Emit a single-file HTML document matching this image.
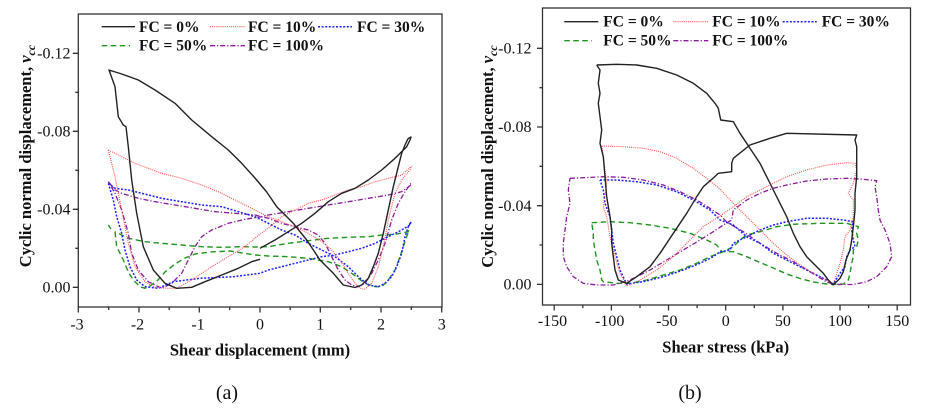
<!DOCTYPE html>
<html>
<head>
<meta charset="utf-8">
<style>
html,body{margin:0;padding:0;background:#fff;}
svg{display:block;font-family:"Liberation Serif","Times New Roman",serif;}
text{font-family:"Liberation Serif","Times New Roman",serif;fill:#111;}
.tk{font-size:16px;}
.lg{font-size:15.5px;font-weight:bold;}
.at{font-size:16.5px;font-weight:bold;}
.sl{font-size:20px;}
.ax{fill:none;stroke:#333;stroke-width:1.3;}
.k{fill:none;stroke:#222;stroke-width:1.4;stroke-linejoin:round;}
.r{fill:none;stroke:#ff4d4d;stroke-width:1.1;stroke-dasharray:1 1.1;}
.b{fill:none;stroke:#1f1fff;stroke-width:1.5;stroke-dasharray:2 1.6;}
.g{fill:none;stroke:#1e961e;stroke-width:1.4;stroke-dasharray:5.5 3.5;}
.p{fill:none;stroke:#8a1c9c;stroke-width:1.3;stroke-dasharray:5 2 1.2 2;}
</style>
</head>
<body>
<svg width="927" height="411" viewBox="0 0 927 411" xmlns="http://www.w3.org/2000/svg" font-family="Liberation Serif, serif">
<rect x="0" y="0" width="927" height="411" fill="#fff"/>

<!-- ================= PANEL A ================= -->
<rect class="ax" x="78.3" y="14" width="363.7" height="293"/>
<path class="ax" d="M72.8,53.3H78.3 M72.8,131.3H78.3 M72.8,209.3H78.3 M72.8,287.3H78.3 M75.3,92.3H78.3 M75.3,170.3H78.3 M75.3,248.3H78.3"/>
<path class="ax" d="M78.3,307V312.5 M139,307V312.5 M199.3,307V312.5 M260,307V312.5 M320.3,307V312.5 M381,307V312.5 M441.7,307V312.5 M108.7,307V310 M169.2,307V310 M229.7,307V310 M290.2,307V310 M350.7,307V310 M411.3,307V310"/>
<g class="tk" text-anchor="end">
<text x="70.5" y="58.5">-0.12</text>
<text x="70.5" y="136.5">-0.08</text>
<text x="70.5" y="214.5">-0.04</text>
<text x="70.5" y="292.5">0.00</text>
</g>
<g class="tk" text-anchor="middle">
<text x="77" y="329.5">-3</text>
<text x="137.5" y="329.5">-2</text>
<text x="198" y="329.5">-1</text>
<text x="260" y="329.5">0</text>
<text x="320.3" y="329.5">1</text>
<text x="381" y="329.5">2</text>
<text x="441.7" y="329.5">3</text>
</g>
<text class="at" x="260" y="355.5" text-anchor="middle">Shear displacement (mm)</text>
<text class="at" transform="translate(31,156) rotate(-90)" text-anchor="middle">Cyclic normal displacement, <tspan font-style="italic">v</tspan><tspan font-style="italic" font-size="12" dy="4">cc</tspan></text>
<text class="sl" x="227" y="399" text-anchor="middle">(a)</text>

<line x1="101.7" y1="26.7" x2="135" y2="26.7" class="k"/>
<text class="lg" x="139" y="32">FC = 0%</text>
<line x1="210" y1="26.7" x2="245" y2="26.7" class="r"/>
<text class="lg" x="248" y="32">FC = 10%</text>
<line x1="318" y1="26.7" x2="352" y2="26.7" class="b"/>
<text class="lg" x="357" y="32">FC = 30%</text>
<line x1="101.7" y1="45.7" x2="130" y2="45.7" class="g"/>
<text class="lg" x="139" y="50.7">FC = 50%</text>
<line x1="210" y1="45.7" x2="245" y2="45.7" class="p"/>
<text class="lg" x="248" y="50.7">FC = 100%</text>

<path class="g" d="M108.3,225 L111,229"/>
<path class="g" d="M115,231.7 L116.7,246.7 L123.3,260 L128.3,272 L133.3,280 L140,286.7 L145,288.3 L150,286 L158,280 L165,272 L175,264 L185,258 L195,254 L210,252 L230,251 L255,255 L268.3,256 L288.3,256.7 L308.3,258.3 L328.3,261.7 L341.7,266.7 L351.7,273.3 L358.3,278.3 L365,283.3 L375,286.7 L381.7,286.7 L388.3,280 L395,270 L400,256.7 L403.3,246.7 L406.7,236.7 L409,230 L408.3,231.7 L395,234.3 L381.7,235 L368.3,236.7 L348.3,237.3 L328.3,238.3 L308.3,240.7 L288.3,243.3 L268.3,246.7 L255,247 L241.7,246.7 L221.7,247.3 L201.7,246.7 L181.7,245 L161.7,243.3 L145,241.7 L128.3,238.3 L115,231.7"/>
<path class="p" d="M108.3,181.7 L115,190 L121.7,193.3 L138.3,198.3 L155,201.7 L175,205 L195,208.3 L215,211.7 L235,213.3 L255,215 L268.3,218.3 L281.7,223.3 L295,226.7 L308.3,230 L318.3,235 L325,243.3 L331.7,256.7 L338.3,270 L345,280 L351.7,285 L358.3,286.7 L365,283.3 L371.7,273.3 L378.3,260 L385,243.3 L391.7,220 L398.3,203.3 L405,191.7 L411,183.3 L411,185 L401.7,191.7 L388.3,195 L368.3,198.3 L348.3,201.7 L328.3,205 L308.3,208.3 L288.3,211.7 L268.3,215 L261.7,216.7 L245,219.3 L228.3,223.3 L211.7,230 L201.7,236.7 L195,246.7 L188.3,260 L181.7,273.3 L171.7,283.3 L161.7,288.3 L148.3,281.7 L138.3,270 L131.7,253.3 L128.3,233.3 L121.7,210 L115,193.3 L108.3,181.7"/>
<path class="b" d="M108.3,183.3 L115,188.3 L128.3,190 L141.7,193.3 L161.7,198.3 L181.7,201.7 L201.7,205 L221.7,206.7 L238.3,211.7 L255,216.7 L268.3,223.3 L281.7,230 L295,235 L308.3,243.3 L321.7,250 L335,256.7 L348.3,266.7 L358.3,276.7 L368.3,285 L378.3,286.7 L385,283.3 L391.7,276.7 L396.7,266.7 L401.7,253.3 L405,236.7 L408.3,226.7 L411,221.7 L410,225 L401.7,230 L388.3,236.7 L375,243.3 L361.7,248.3 L348.3,251.7 L335,255 L321.7,256.7 L308.3,260 L295,263.3 L281.7,266.7 L268.3,270 L260,273.3 L233.3,276.7 L200,278.3 L173.3,281.7 L158.3,288.3 L145,286.7 L136.7,280 L130,266.7 L125,250 L121.7,233.3 L116.7,216.7 L113.3,200 L108.3,183.3"/>
<path class="r" d="M108.3,150 L121.7,156.7 L135,163.3 L148.3,168.3 L161.7,173.3 L181.7,178.3 L201.7,185 L218.3,191.7 L235,200 L251.7,208.3 L268.3,216.7 L281.7,221.7 L295,226.7 L308.3,233.3 L321.7,241.7 L331.7,250 L340,260 L348.3,273.3 L355,283.3 L361.7,289 L365,289 L371.7,283.3 L378.3,266.7 L383.3,246.7 L388.3,220 L395,193.3 L401.7,180 L410,170 L411.7,166 L401.7,175 L388.3,178.3 L375,181.7 L361.7,186.7 L348.3,190 L335,195 L321.7,200 L308.3,203.3 L295,210 L281.7,216.7 L268.3,228 L255,238 L245,246.7 L228.3,256.7 L211.7,266.7 L191.7,280 L176.7,288.3 L168.3,288.3 L155,287.3 L145,281.7 L135,266.7 L128.3,243.3 L121.7,210 L115,176.7 L108.3,150"/>
<path class="k" d="M260,248.3 L275,240 L288.3,231.7 L301.7,223.3 L315,213.3 L328.3,201.7 L341.7,193.3 L355,188.3 L368.3,180 L381.7,170 L395,158.3 L406.7,146.7 L410,140 L411,137 L409,138 L407.7,139.3 L405,145 L401.7,153.3 L398.3,166.7 L393.3,186.7 L388.3,210 L383.3,233.3 L378.3,253.3 L373.3,266.7 L368.3,278.3 L361.7,285 L355,287.5 L343.3,285 L333.3,273.3 L320,260 L306.7,240 L293.3,223.3 L283.3,213.3 L276.7,206.7 L266.7,192 L255,178 L241.7,163.3 L228.3,150 L211.7,136.7 L191.7,120 L175,103.3 L155,90 L138.3,80 L121.7,74 L109,70 L115,86.7 L118.3,116.7 L123.3,125 L126,126.7 L128.3,146.7 L131.7,180 L136.7,213.3 L143.3,246.7 L153.3,270 L165,283.3 L176.7,288.3 L191.7,287.3 L205,281.7 L221.7,275 L238.3,268.3 L251.7,261.7 L260,259.3"/>

<!-- ================= PANEL B ================= -->
<rect class="ax" x="542.5" y="8" width="368" height="297"/>
<path class="ax" d="M537,48.3H542.5 M537,127H542.5 M537,205.7H542.5 M537,284.4H542.5 M539.5,87.7H542.5 M539.5,166.3H542.5 M539.5,245H542.5"/>
<path class="ax" d="M554.2,305V310.5 M611.4,305V310.5 M668.5,305V310.5 M725.7,305V310.5 M782.9,305V310.5 M840,305V310.5 M897.2,305V310.5 M582.8,305V308 M640,305V308 M697.1,305V308 M754.3,305V308 M811.5,305V308 M868.6,305V308"/>
<g class="tk" text-anchor="end">
<text x="531.5" y="53.5">-0.12</text>
<text x="531.5" y="132.2">-0.08</text>
<text x="531.5" y="210.9">-0.04</text>
<text x="531.5" y="289.6">0.00</text>
</g>
<g class="tk" text-anchor="middle">
<text x="552.5" y="326">-150</text>
<text x="609.7" y="326">-100</text>
<text x="666.8" y="326">-50</text>
<text x="725.7" y="326">0</text>
<text x="782.9" y="326">50</text>
<text x="840" y="326">100</text>
<text x="897.2" y="326">150</text>
</g>
<text class="at" x="725.7" y="352.5" text-anchor="middle">Shear stress (kPa)</text>
<text class="at" transform="translate(493,156.5) rotate(-90)" text-anchor="middle">Cyclic normal displacement, <tspan font-style="italic">v</tspan><tspan font-style="italic" font-size="12" dy="4">cc</tspan></text>
<text class="sl" x="690" y="399" text-anchor="middle">(b)</text>

<line x1="564.3" y1="21.7" x2="598.3" y2="21.7" class="k"/>
<text class="lg" x="603.3" y="26.7">FC = 0%</text>
<line x1="673.3" y1="21.7" x2="708.3" y2="21.7" class="r"/>
<text class="lg" x="712.3" y="26.7">FC = 10%</text>
<line x1="782.7" y1="21.7" x2="816.7" y2="21.7" class="b"/>
<text class="lg" x="821.7" y="26.7">FC = 30%</text>
<line x1="564.3" y1="40.7" x2="592" y2="40.7" class="g"/>
<text class="lg" x="603.3" y="45.7">FC = 50%</text>
<line x1="673.3" y1="40.7" x2="708.3" y2="40.7" class="p"/>
<text class="lg" x="712.3" y="45.7">FC = 100%</text>

<path class="g" d="M591.7,222.7 L610,221.7 L630,222.7 L650,225 L670,228.3 L690,233.3 L706.7,240 L716.7,245 L721.7,251.7 L733.3,251.7 L746.7,256.7 L760,262.5 L773.3,268 L786.7,274 L800,278.5 L813.3,282 L826.7,284 L833.3,284.5 L843.3,284 L848.3,280 L850,273.3 L851.7,263.3 L853.3,256.7 L853.3,250 L856.7,246.7 L858.3,240 L856.7,233.3 L858.3,226.7 L846.7,223.3 L820,223.3 L793.3,224.3 L776.7,226.7 L760,231.7 L746.7,235 L740,240 L733.3,246.7 L723.3,251.7 L710,256.7 L696.7,263.3 L680,270 L663.3,275 L646.7,280 L630,283.3 L616.7,283.3 L603.3,281.7 L601.7,280 L600,270 L596.7,260 L595,250 L593.3,240 L593.3,233.3 L591.7,222.7"/>
<path class="p" d="M570,178.3 L583.3,177.7 L603.3,176.7 L623.3,177.3 L643.3,180 L663.3,185 L680,191.7 L696.7,200 L710,208.3 L720,215 L726.7,222 L743.3,231.7 L760,243.3 L776.7,253.3 L793.3,261.7 L810,271.7 L826.7,282 L833.3,284 L840,284.5 L853.3,284.5 L866.7,281.7 L876.7,276.7 L886.7,266.7 L891.7,256.7 L890,243.3 L885,230 L880,220 L878.3,210 L876.7,196.7 L875,186.7 L876.7,180.7 L860,179 L846.7,178.3 L826.7,179 L806.7,181 L786.7,185 L773.3,188.3 L760,193.3 L746.7,200 L733.3,210 L731.7,220 L723.3,225 L713.3,231.7 L700,240 L683.3,250 L666.7,260 L650,270 L630,280 L613.3,285 L596.7,285 L583.3,283.3 L573.3,276.7 L566.7,266.7 L563.3,256.7 L563.3,243.3 L565,230 L566.7,216.7 L570,203.3 L568.3,190 L570,178.3"/>
<path class="b" d="M600,180 L616.7,180 L636.7,181.7 L656.7,185 L676.7,191.7 L693.3,200 L710,210 L720,220 L733.3,225 L746.7,236.7 L760,243.3 L773.3,253.3 L786.7,260 L800,266.7 L813.3,273.3 L826.7,280 L833.3,284 L840,273.3 L845,266.7 L846.7,256.7 L850,250 L855,246.7 L853.3,240 L851.7,230 L853.3,221.7 L843.3,220 L826.7,218.3 L806.7,218.3 L786.7,221.7 L773.3,225 L760,230 L746.7,236.7 L733.3,243.3 L730,250 L720,251.7 L713.3,256.7 L700,263.3 L683.3,270 L663.3,276.7 L643.3,281.7 L626.7,284 L620,270 L616.7,256.7 L613.3,243.3 L611.7,230 L610,216.7 L605,203.3 L603.3,190 L600,180"/>
<path class="r" d="M601.7,146 L623.3,146.7 L643.3,148.3 L660,151.7 L676.7,158.3 L693.3,168.3 L706.7,178.3 L720,189 L733.3,203.3 L746.7,216.7 L760,230 L773.3,243.3 L786.7,255 L800,265 L813.3,273.3 L826.7,280 L833.3,285 L836.7,273.3 L840,263.3 L843.3,250 L845,236.7 L850,230 L853.3,216.7 L853.3,200 L848.3,193.3 L853.3,183.3 L856.7,170 L855,163.3 L846.7,162.7 L826.7,165 L806.7,170 L786.7,176.7 L773.3,183.3 L760,190 L746.7,196.7 L733.3,206.7 L720,216 L703.3,226.7 L690,240 L673.3,256.7 L656.7,270 L640,280 L626.7,286 L620,273.3 L615,256.7 L610,236.7 L606.7,216.7 L603.3,206.7 L606.7,183.3 L605,170 L603.3,156.7 L601.7,146"/>
<path class="k" d="M596.7,65 L616.7,64.3 L636.7,65 L656.7,68.3 L676.7,75 L693.3,83.3 L706.7,93.3 L715,103.3 L718.3,108.3 L720.7,120 L733.3,121.7 L740,133.3 L746.7,143.3 L753.3,153.3 L760,163.3 L766.7,176.7 L773.3,190 L780,203.3 L786.7,216.7 L793.3,233.3 L800,246.7 L806.7,256.7 L816.7,266.7 L823.3,273.3 L828.3,280 L833,284.7 L835,283.3 L840,278.3 L843.3,271.7 L846,260 L850,250 L851.7,240 L853.3,226.7 L855,210 L855,193.3 L856.7,176.7 L856.7,160 L856.7,146.7 L855,140 L856.7,135 L786.7,133.3 L770,138.3 L750,145 L733.3,158.3 L731.7,163.3 L731.7,171.7 L718.3,173.3 L713.3,178 L703.3,186.7 L696.7,196.7 L686.7,213.3 L673.3,233.3 L660,253.3 L650,266.7 L636.7,276.7 L626.7,283.3 L618.3,280 L615,270 L613.3,256.7 L611.7,243.3 L611.7,230 L610,216.7 L606.7,196.7 L605,176.7 L603.3,156.7 L600,143.3 L601.7,130 L600,116.7 L598.3,103.3 L600,93.3 L598.3,83.3 L600,70 L596.7,65"/>
</svg>
</body>
</html>
